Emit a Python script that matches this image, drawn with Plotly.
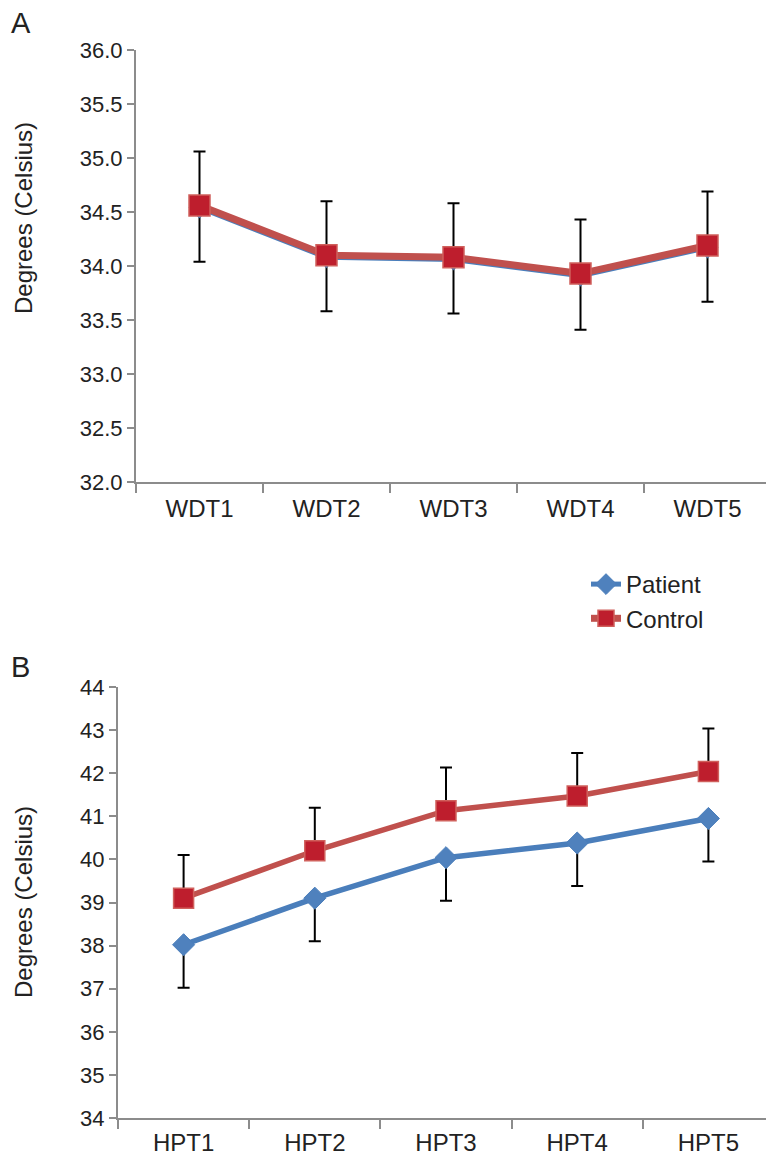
import plotly.graph_objects as go

W, H = 774, 1157
OFF = 8  # page body margin in the browser

# ---- data ----
wdt_labels = ["WDT1", "WDT2", "WDT3", "WDT4", "WDT5"]
wdt_patient = [34.54, 34.08, 34.06, 33.91, 34.17]
wdt_control = [34.56, 34.10, 34.08, 33.93, 34.19]
wdt_err = [0.5, 0.5, 0.5, 0.5, 0.5]

hpt_labels = ["HPT1", "HPT2", "HPT3", "HPT4", "HPT5"]
hpt_patient = [38.02, 39.10, 40.04, 40.38, 40.95]
hpt_control = [39.10, 40.20, 41.13, 41.47, 42.04]
hpt_err = [1.0, 1.0, 1.0, 1.0, 1.0]

wdt_ticks = [32.0, 32.5, 33.0, 33.5, 34.0, 34.5, 35.0, 35.5, 36.0]
hpt_ticks = [34, 35, 36, 37, 38, 39, 40, 41, 42, 43, 44]

BLUE = "#4a7ebb"
BLUE_M = "#4f81bd"
RED = "#c0504d"
RED_M = "#be1e2d"
AXIS = "#8c8c8c"
TXT = "#222222"
FONT = "Liberation Sans, Arial, sans-serif"


def px_x(x):
    return (x - OFF) / W


def px_y(y):
    return 1 - (y - OFF) / H


zeros = [0, 0, 0, 0, 0]

fig = go.Figure()

# Panel A
fig.add_trace(go.Scatter(
    x=wdt_labels, y=wdt_patient, mode="lines+markers", name="Patient",
    line=dict(color=BLUE, width=5),
    marker=dict(symbol="diamond", size=16, color=BLUE_M, line=dict(color=BLUE, width=1)),
    error_y=dict(type="data", symmetric=False, array=zeros, arrayminus=wdt_err,
                 color="black", thickness=2, width=6),
    xaxis="x", yaxis="y", showlegend=True, legendrank=1))
fig.add_trace(go.Scatter(
    x=wdt_labels, y=wdt_control, mode="lines+markers", name="Control",
    line=dict(color=RED, width=7),
    marker=dict(symbol="square", size=21, color=RED_M, line=dict(color="#d0605c", width=1.5)),
    error_y=dict(type="data", symmetric=False, array=wdt_err, arrayminus=zeros,
                 color="black", thickness=2, width=6),
    xaxis="x", yaxis="y", showlegend=True, legendrank=2))

# Panel B
fig.add_trace(go.Scatter(
    x=hpt_labels, y=hpt_patient, mode="lines+markers", name="Patient",
    line=dict(color=BLUE, width=5.5),
    marker=dict(symbol="diamond", size=17, color=BLUE_M, line=dict(color=BLUE, width=1)),
    error_y=dict(type="data", symmetric=False, array=zeros, arrayminus=hpt_err,
                 color="black", thickness=2, width=6),
    xaxis="x2", yaxis="y2", showlegend=False))
fig.add_trace(go.Scatter(
    x=hpt_labels, y=hpt_control, mode="lines+markers", name="Control",
    line=dict(color=RED, width=5.5),
    marker=dict(symbol="square", size=20, color=RED_M, line=dict(color="#d0605c", width=1.5)),
    error_y=dict(type="data", symmetric=False, array=hpt_err, arrayminus=zeros,
                 color="black", thickness=2, width=6),
    xaxis="x2", yaxis="y2", showlegend=False))

base = dict(showgrid=False, zeroline=False, showline=True, linecolor=AXIS,
            linewidth=2, ticks="outside", tickcolor=AXIS, tickwidth=2,
            automargin=False)
xfont = dict(family=FONT, size=24, color=TXT)
yfont = dict(family=FONT, size=22, color=TXT)

fig.update_layout(
    width=W, height=H,
    margin=dict(l=0, r=0, t=0, b=0, pad=0),
    paper_bgcolor="white", plot_bgcolor="white",
    font=dict(family=FONT, color=TXT),
    xaxis=dict(domain=[px_x(136), px_x(771)], anchor="y", type="category",
               categoryorder="array", categoryarray=wdt_labels,
               range=[-0.5, 4.5], tickson="boundaries", ticklen=9,
               ticklabelstandoff=4, tickfont=xfont, **base),
    yaxis=dict(domain=[px_y(482), px_y(50)], anchor="x", range=[32, 36],
               tickvals=wdt_ticks, tickformat=".1f", ticklen=7,
               tickfont=yfont, **base),
    xaxis2=dict(domain=[px_x(118), px_x(774)], anchor="y2", type="category",
                categoryorder="array", categoryarray=hpt_labels,
                range=[-0.5, 4.5], tickson="boundaries", ticklen=9,
                ticklabelstandoff=2, tickfont=xfont, **base),
    yaxis2=dict(domain=[px_y(1118), px_y(687)], anchor="x2", range=[34, 44],
                tickvals=hpt_ticks, ticklen=7,
                tickfont=yfont, **base),
    legend=dict(x=px_x(586), y=px_y(562), xanchor="left", yanchor="top",
                font=dict(family=FONT, size=24, color=TXT),
                bgcolor="rgba(0,0,0,0)", tracegroupgap=0),
    annotations=[
        dict(text="A", x=px_x(9), y=px_y(23), xref="paper", yref="paper",
             xanchor="left", yanchor="middle", showarrow=False,
             font=dict(family=FONT, size=29, color=TXT)),
        dict(text="B", x=px_x(9), y=px_y(667), xref="paper", yref="paper",
             xanchor="left", yanchor="middle", showarrow=False,
             font=dict(family=FONT, size=29, color=TXT)),
        dict(text="Degrees (Celsius)", x=px_x(23), y=px_y(218), xref="paper", yref="paper",
             xanchor="center", yanchor="middle", showarrow=False, textangle=-90,
             font=dict(family=FONT, size=24, color=TXT)),
        dict(text="Degrees (Celsius)", x=px_x(23), y=px_y(902), xref="paper", yref="paper",
             xanchor="center", yanchor="middle", showarrow=False, textangle=-90,
             font=dict(family=FONT, size=24, color=TXT)),
    ],
)

fig.write_html("out.html")
